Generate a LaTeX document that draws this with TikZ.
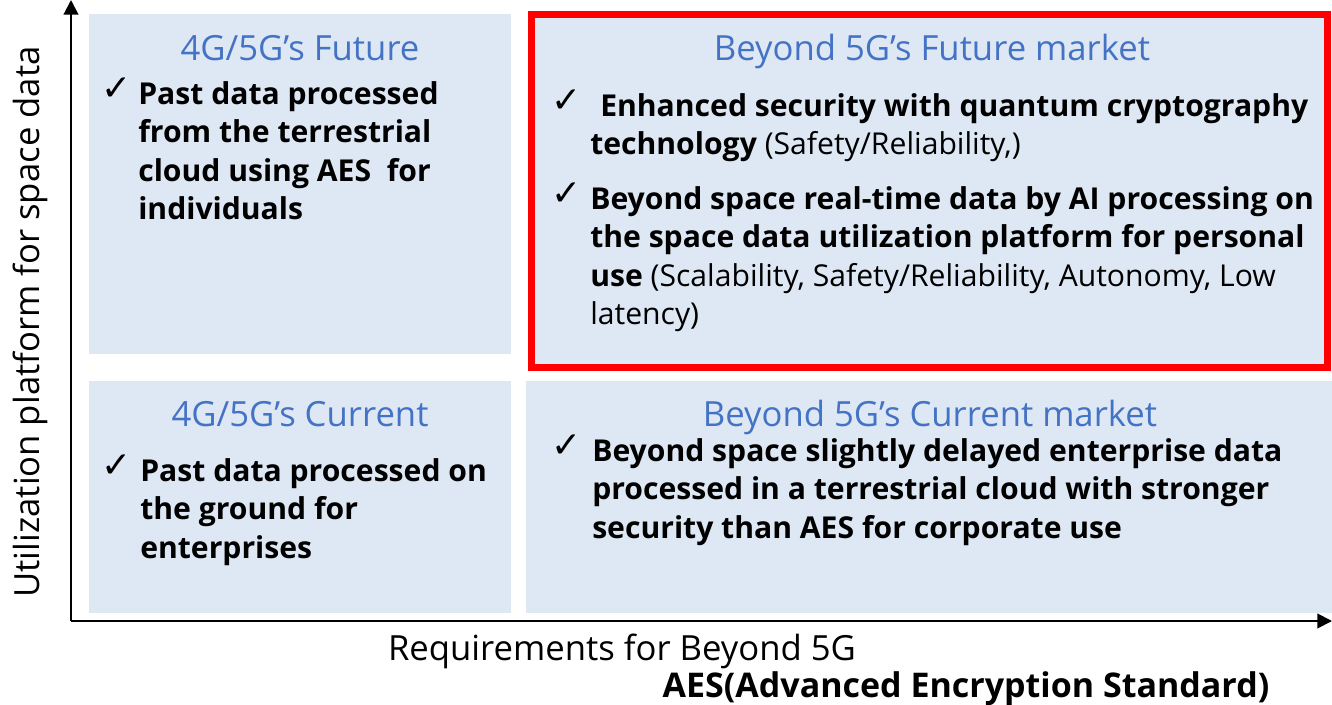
\documentclass[tikz,border=0pt]{standalone}
\usepackage{fontspec}
\setmainfont{Open Sans}
\newfontfamily\dv{DejaVu Sans}
\usetikzlibrary{arrows.meta}
\definecolor{boxfill}{HTML}{DEE8F4}
\definecolor{ttlblue}{HTML}{4472C4}
\definecolor{hired}{HTML}{FF0000}
\newcommand{\topstrut}{\rule{0pt}{15pt}}
\tikzset{
  quad/.style={fill=boxfill, draw=none},
  ttl/.style={text=ttlblue, anchor=base, inner sep=0, font=\fontsize{26}{30}\selectfont},
  item/.style={anchor=north west, align=left, inner sep=0, font=\fontsize{22.6}{28.9}\selectfont\bfseries},
  chk/.style={anchor=base west, inner sep=0, font=\dv\fontsize{27}{30}\selectfont},
  axis/.style={line width=1.5pt, -{Triangle[length=11pt,width=11pt]}},
  axlbl/.style={inner sep=0, font=\fontsize{26}{30}\selectfont},
}
\begin{document}
\begin{tikzpicture}[x=0.75pt,y=-0.75pt]
\useasboundingbox (0,0) rectangle (1332,705);
% quadrants
\path[quad] (89,14) rectangle (511,354);
\path[quad] (89,381) rectangle (511,613);
\path[quad] (526,381) rectangle (1332,613);
\path[quad, draw=hired, line width=5.25pt] (531.5,14.5) rectangle (1327.5,367.5);
% axes
\coordinate (o) at (71,621);
\coordinate (ytip) at (71,0);
\coordinate (xtip) at (1332,621);
\draw[axis] (o) -- (ytip);
\draw[axis] (o) -- (xtip);
% titles
\node[ttl] (t1) at (300,61) {4G/5G’s Future};
\node[ttl] (t2) at (932,61) {Beyond 5G’s Future market};
\node[ttl] (t3) at (300,427) {4G/5G’s Current};
\node[ttl] (t4) at (930,427) {Beyond 5G’s Current market};
% top-left
\node[chk] (c1) at (101,101) {✓};
\node[item] (i1) at (138,81) {\topstrut Past data processed\\from the terrestrial\\cloud using AES\ \ for\\individuals};
% top-right
\node[chk] (c2) at (551,113) {✓};
\node[item] (i2) at (590,93) {\topstrut\hspace{7.5pt}Enhanced security with quantum cryptography\\technology {\mdseries (Safety/Reliability,)}};
\node[chk] (c3) at (551,206) {✓};
\node[item] (i3) at (590,186) {\topstrut Beyond space real-time data by AI processing on\\the space data utilization platform for personal\\use {\mdseries (Scalability, Safety/Reliability, Autonomy, Low}\\{\mdseries latency)}};
% bottom-left
\node[chk] (c4) at (101,478) {✓};
\node[item] (i4) at (140,458) {\topstrut Past data processed on\\the ground for\\enterprises};
% bottom-right
\node[chk] (c5) at (551,458) {✓};
\node[item] (i5) at (592,438) {\topstrut Beyond space slightly delayed enterprise data\\processed in a terrestrial cloud with stronger\\security than AES for corporate use};
% axis labels
\node[axlbl, rotate=90] (yl) at (30,322) {Utilization platform for space data};
\node[axlbl, anchor=base] (xl) at (622,660) {Requirements for Beyond 5G};
\node[axlbl, anchor=base, font=\fontsize{25.5}{28}\selectfont\bfseries] (aes) at (966,697) {AES(Advanced Encryption Standard)};
\end{tikzpicture}
\end{document}
